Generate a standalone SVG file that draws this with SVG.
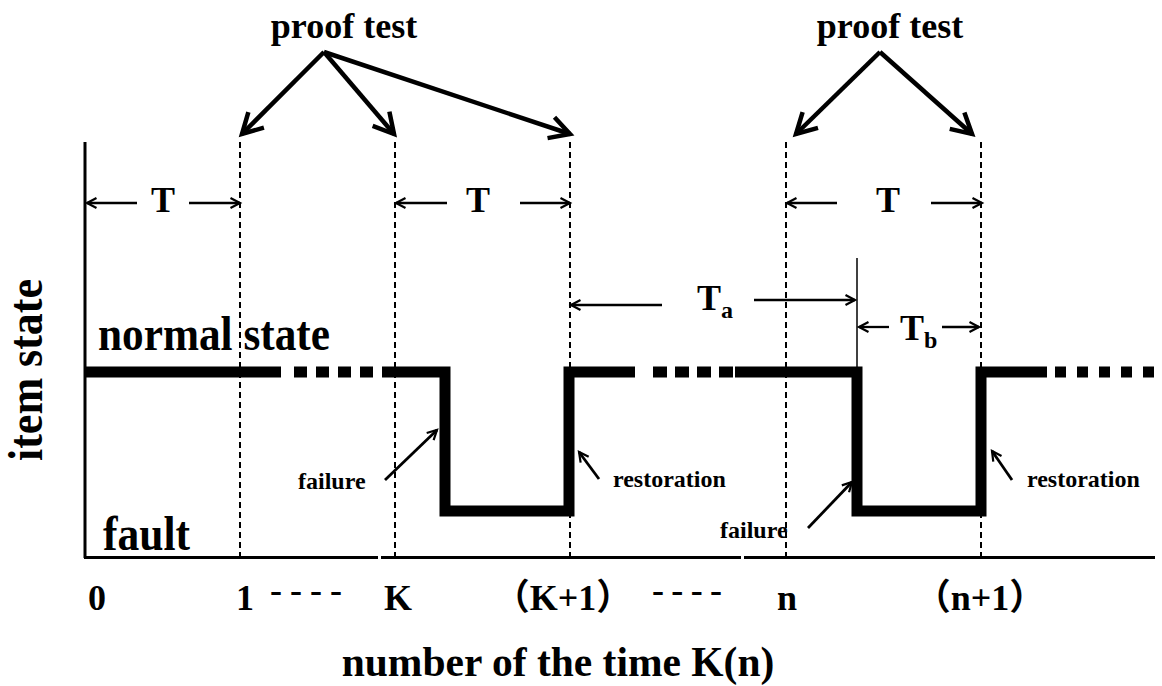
<svg xmlns="http://www.w3.org/2000/svg" width="1162" height="686" viewBox="0 0 1162 686">
<style>
text{font-family:"Liberation Serif","Noto Sans CJK SC",serif;font-weight:bold;fill:#000}
.big{font-size:48px}
.mid{font-size:36px}
.lbl{font-size:24px}
.axis{stroke:#000;stroke-width:3;fill:none}
.grid{stroke:#000;stroke-width:2;stroke-dasharray:6 4;fill:none}
.sig{stroke:#000;stroke-width:11;fill:none;stroke-linejoin:miter}
.sq{stroke:#000;stroke-width:11;fill:none}
.pt{stroke:#000;stroke-width:4.5;fill:none;marker-end:url(#bigArrow)}
.dim{stroke:#000;stroke-width:2.3;fill:none;marker-end:url(#smallArrow)}
.lead{stroke:#000;stroke-width:2.8;fill:none;marker-end:url(#smallArrow)}
.thin{stroke:#000;stroke-width:1.5;fill:none}
</style>
<defs>
<marker id="bigArrow" markerUnits="userSpaceOnUse" markerWidth="30" markerHeight="30" viewBox="0 0 30 30" refX="26" refY="15" orient="auto" overflow="visible">
<path d="M6,4 L26,15 L6,26" fill="none" stroke="#000" stroke-width="4.5" stroke-linejoin="miter"/>
</marker>
<marker id="smallArrow" markerUnits="userSpaceOnUse" markerWidth="14" markerHeight="14" viewBox="0 0 14 14" refX="12" refY="7" orient="auto" overflow="visible">
<path d="M2.5,2 L12,7 L2.5,12" fill="none" stroke="#000" stroke-width="2.2"/>
</marker>
</defs>
<rect width="1162" height="686" fill="#fff"/>

<g id="axes">
<line class="axis" x1="85" y1="142" x2="85" y2="558"/>
<line class="axis" x1="84" y1="557.5" x2="378" y2="557.5"/>
<line class="axis" x1="381" y1="557.5" x2="741" y2="557.5"/>
<line class="axis" x1="744" y1="557.5" x2="1155" y2="557.5"/>
</g>

<g id="proof-lines">
<line class="grid" x1="240" y1="142" x2="240" y2="557"/>
<line class="grid" x1="395" y1="142" x2="395" y2="557"/>
<line class="grid" x1="570" y1="142" x2="570" y2="557"/>
<line class="grid" x1="786" y1="142" x2="786" y2="557"/>
<line class="grid" x1="981" y1="142" x2="981" y2="557"/>
</g>

<g id="signal">
<line class="sig" x1="85" y1="372" x2="281" y2="372"/>
<line class="sq" x1="294" y1="372" x2="374" y2="372" stroke-dasharray="13 9"/>
<polyline class="sig" points="382,372 445,372 445,511 569,511 569,372 635,372"/>
<line class="sq" x1="653" y1="372" x2="733" y2="372" stroke-dasharray="14 8"/>
<polyline class="sig" points="735,372 857,372 857,511 981,511 981,372 1047,372"/>
<line class="sq" x1="1055" y1="372" x2="1162" y2="372" stroke-dasharray="11 11"/>
</g>

<g id="marker-line">
<line class="thin" x1="857" y1="258" x2="857" y2="367"/>
</g>

<g id="connectors">
<line class="pt" x1="324" y1="52" x2="242" y2="134"/>
<line class="pt" x1="324" y1="52" x2="394" y2="134"/>
<line class="pt" x1="324" y1="52" x2="570" y2="134"/>
<line class="pt" x1="880" y1="52" x2="796" y2="134"/>
<line class="pt" x1="880" y1="52" x2="972" y2="134"/>
<line class="dim" x1="137" y1="203" x2="87" y2="203"/>
<line class="dim" x1="189" y1="203" x2="240" y2="203"/>
<line class="dim" x1="447" y1="203" x2="396" y2="203"/>
<line class="dim" x1="520" y1="203" x2="570" y2="203"/>
<line class="dim" x1="837" y1="203" x2="787" y2="203"/>
<line class="dim" x1="931" y1="203" x2="982" y2="203"/>
<line class="dim" x1="662" y1="305" x2="571" y2="305"/>
<line class="dim" x1="754" y1="300" x2="855" y2="300"/>
<line class="dim" x1="889" y1="327" x2="859" y2="327"/>
<line class="dim" x1="942" y1="327" x2="979" y2="327"/>
<line class="lead" x1="385" y1="480" x2="437" y2="430"/>
<line class="lead" x1="599" y1="479" x2="579" y2="452"/>
<line class="lead" x1="808" y1="528" x2="852" y2="482"/>
<line class="lead" x1="1012" y1="480" x2="992" y2="451"/>
</g>

<g id="label-proof-test-1"><text class="mid" x="344" y="38" text-anchor="middle">proof test</text></g>
<g id="label-proof-test-2"><text class="mid" x="890" y="38" text-anchor="middle">proof test</text></g>
<g id="label-T1"><text class="mid" x="163" y="212" text-anchor="middle">T</text></g>
<g id="label-T2"><text class="mid" x="478" y="212" text-anchor="middle">T</text></g>
<g id="label-T3"><text class="mid" x="888" y="212" text-anchor="middle">T</text></g>
<g id="label-Ta"><text class="mid" x="697" y="310" font-size="38">T<tspan font-size="24" dy="8">a</tspan></text></g>
<g id="label-Tb"><text class="mid" x="900" y="340">T<tspan font-size="24" dy="8">b</tspan></text></g>
<g id="label-item-state"><text class="big" transform="translate(42,370) rotate(-90)" text-anchor="middle" textLength="182" lengthAdjust="spacingAndGlyphs">item state</text></g>
<g id="label-normal"><text class="big" x="98" y="350" textLength="232" lengthAdjust="spacingAndGlyphs">normal state</text></g>
<g id="label-fault"><text class="big" x="103" y="550" textLength="87" lengthAdjust="spacingAndGlyphs">fault</text></g>
<g id="label-failure-1"><text class="lbl" x="298" y="489">failure</text></g>
<g id="label-restoration-1"><text class="lbl" x="613" y="487">restoration</text></g>
<g id="label-failure-2"><text class="lbl" x="720" y="538">failure</text></g>
<g id="label-restoration-2"><text class="lbl" x="1027" y="487">restoration</text></g>

<g id="ticks">
<text class="mid" x="97" y="610" text-anchor="middle">0</text>
<text class="mid" x="245" y="610" text-anchor="middle">1</text>
<text class="mid" x="270" y="602" textLength="72">----</text>
<text class="mid" x="398" y="610" text-anchor="middle">K</text>
<text class="mid" x="563" y="610" text-anchor="middle">（K+1）</text>
<text class="mid" x="652" y="602" textLength="70">----</text>
<text class="mid" x="787" y="610" text-anchor="middle">n</text>
<text class="mid" x="980" y="610" text-anchor="middle">（n+1）</text>
</g>
<g id="x-title"><text x="558" y="676" text-anchor="middle" font-size="41.5">number of the time K(n)</text></g>
</svg>
